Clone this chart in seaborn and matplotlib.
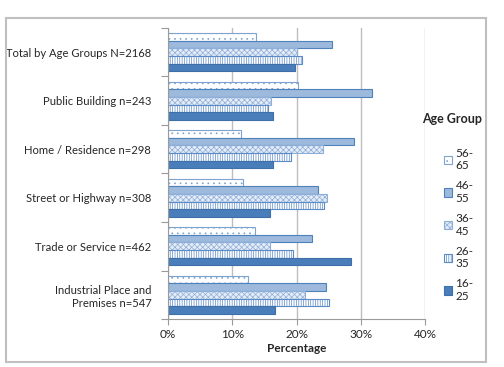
import matplotlib
matplotlib.use('Agg')
import matplotlib.pyplot as plt
import seaborn as sns
import pandas as pd
from matplotlib.patches import Rectangle, Patch

categories = ['Total by Age Groups N=2168', 'Public Building n=243',
              'Home / Residence n=298', 'Street or Highway n=308',
              'Trade or Service n=462', 'Industrial Place and\nPremises n=547']
age_groups = ['56-65', '46-55', '36-45', '26-35', '16-25']
v_56_65 = [13.7, 20.2, 11.3, 11.6, 13.6, 12.4]
v_46_55 = [25.5, 31.7, 28.9, 23.4, 22.4, 24.6]
v_36_45 = [20.0, 16.0, 24.1, 24.7, 15.8, 21.4]
v_26_35 = [20.9, 15.6, 19.1, 24.3, 19.5, 25.0]
v_16_25 = [19.7, 16.4, 16.4, 15.8, 28.5, 16.6]
x_ticks = [0, 10, 20, 30, 40]
x_tick_labels = ['0%', '10%', '20%', '30%', '40%']

series = {'56-65': v_56_65, '46-55': v_46_55, '36-45': v_36_45,
          '26-35': v_26_35, '16-25': v_16_25}
rows = []
for g in age_groups:
    for c, v in zip(categories, series[g]):
        rows.append({'category': c, 'age': g, 'value': v})
df = pd.DataFrame(rows)

sns.set_style('white')
plt.rcParams['font.family'] = ['Lato', 'DejaVu Sans']
plt.rcParams['hatch.linewidth'] = 0.5

styles = {
    '56-65': dict(facecolor='white', edgecolor='#7FA3D0', hatch='...'),
    '46-55': dict(facecolor='#9DB9DC', edgecolor='#4F81BD', hatch=None),
    '36-45': dict(facecolor='#E4ECF6', edgecolor='#8EAEDA', hatch='xxxxxx'),
    '26-35': dict(facecolor='white', edgecolor='#5B8AC6', hatch='|||||||'),
    '16-25': dict(facecolor='#4A7EBB', edgecolor='#3F6FA8', hatch=None),
}

fig = plt.figure(figsize=(5.04, 3.67), dpi=100)
ax = fig.add_axes([168 / 504, 1 - 319 / 367, (425 - 168) / 504, (319 - 28) / 367])

sns.barplot(data=df, y='category', x='value', hue='age', hue_order=age_groups,
            order=categories, orient='h', width=0.78, ax=ax, legend=False,
            errorbar=None)

for g, cont in zip(age_groups, ax.containers):
    st = styles[g]
    for bar in cont:
        bar.set_facecolor(st['facecolor'])
        bar.set_edgecolor(st['edgecolor'])
        bar.set_linewidth(0.8)
        if st['hatch']:
            bar.set_hatch(st['hatch'])

ax.set_xlim(0, 40)
ax.set_xticks(x_ticks)
ax.set_xticklabels(x_tick_labels, fontsize=8.5, color='#262626')
ax.set_ylim(5.5, -0.5)
ax.set_yticks(range(len(categories)))
ax.set_yticklabels(categories, fontsize=8.1, color='#262626', ha='right')
ax.set_yticks([i - 0.5 for i in range(len(categories) + 1)], minor=True)
ax.tick_params(axis='y', which='major', length=0, pad=12)
ax.tick_params(axis='y', which='minor', length=5, color='#9A9A9A', width=0.8, direction='out', left=True)
ax.tick_params(axis='x', which='major', length=4, color='#9A9A9A', width=0.8, direction='out', bottom=True, pad=3)
ax.xaxis.grid(True, color='#BDBDBD', linewidth=1.0)
ax.yaxis.grid(False)
ax.set_axisbelow(True)
for s in ['top', 'right']:
    ax.spines[s].set_visible(False)
for s in ['left', 'bottom']:
    ax.spines[s].set_color('#9A9A9A')
    ax.spines[s].set_linewidth(0.8)
ax.set_ylabel('')
ax.set_xlabel('Percentage', fontsize=8.5, fontweight='bold', color='#262626', labelpad=2)

handles = []
for g in age_groups:
    st = styles[g]
    handles.append(Patch(facecolor=st['facecolor'], edgecolor=st['edgecolor'],
                         hatch=st['hatch'], linewidth=0.8,
                         label=g.replace('-', '-\n')))
fig.text(452 / 504, 1 - 119 / 367, 'Age Group', ha='center', va='center',
         fontsize=9, fontweight='bold', color='#262626')
fig.legend(handles=handles, loc='upper left', bbox_to_anchor=(433 / 504, 1 - 137 / 367),
           frameon=False, fontsize=8.5, handlelength=0.7, handleheight=0.7,
           handletextpad=0.3, labelspacing=0.75, labelcolor='#262626')

fig.patches.append(Rectangle((6 / 504, 5 / 367), 480 / 504, 344 / 367,
                             transform=fig.transFigure, fill=False,
                             edgecolor='#BFBFBF', linewidth=1.5))

fig.savefig('out.png', dpi=100)
